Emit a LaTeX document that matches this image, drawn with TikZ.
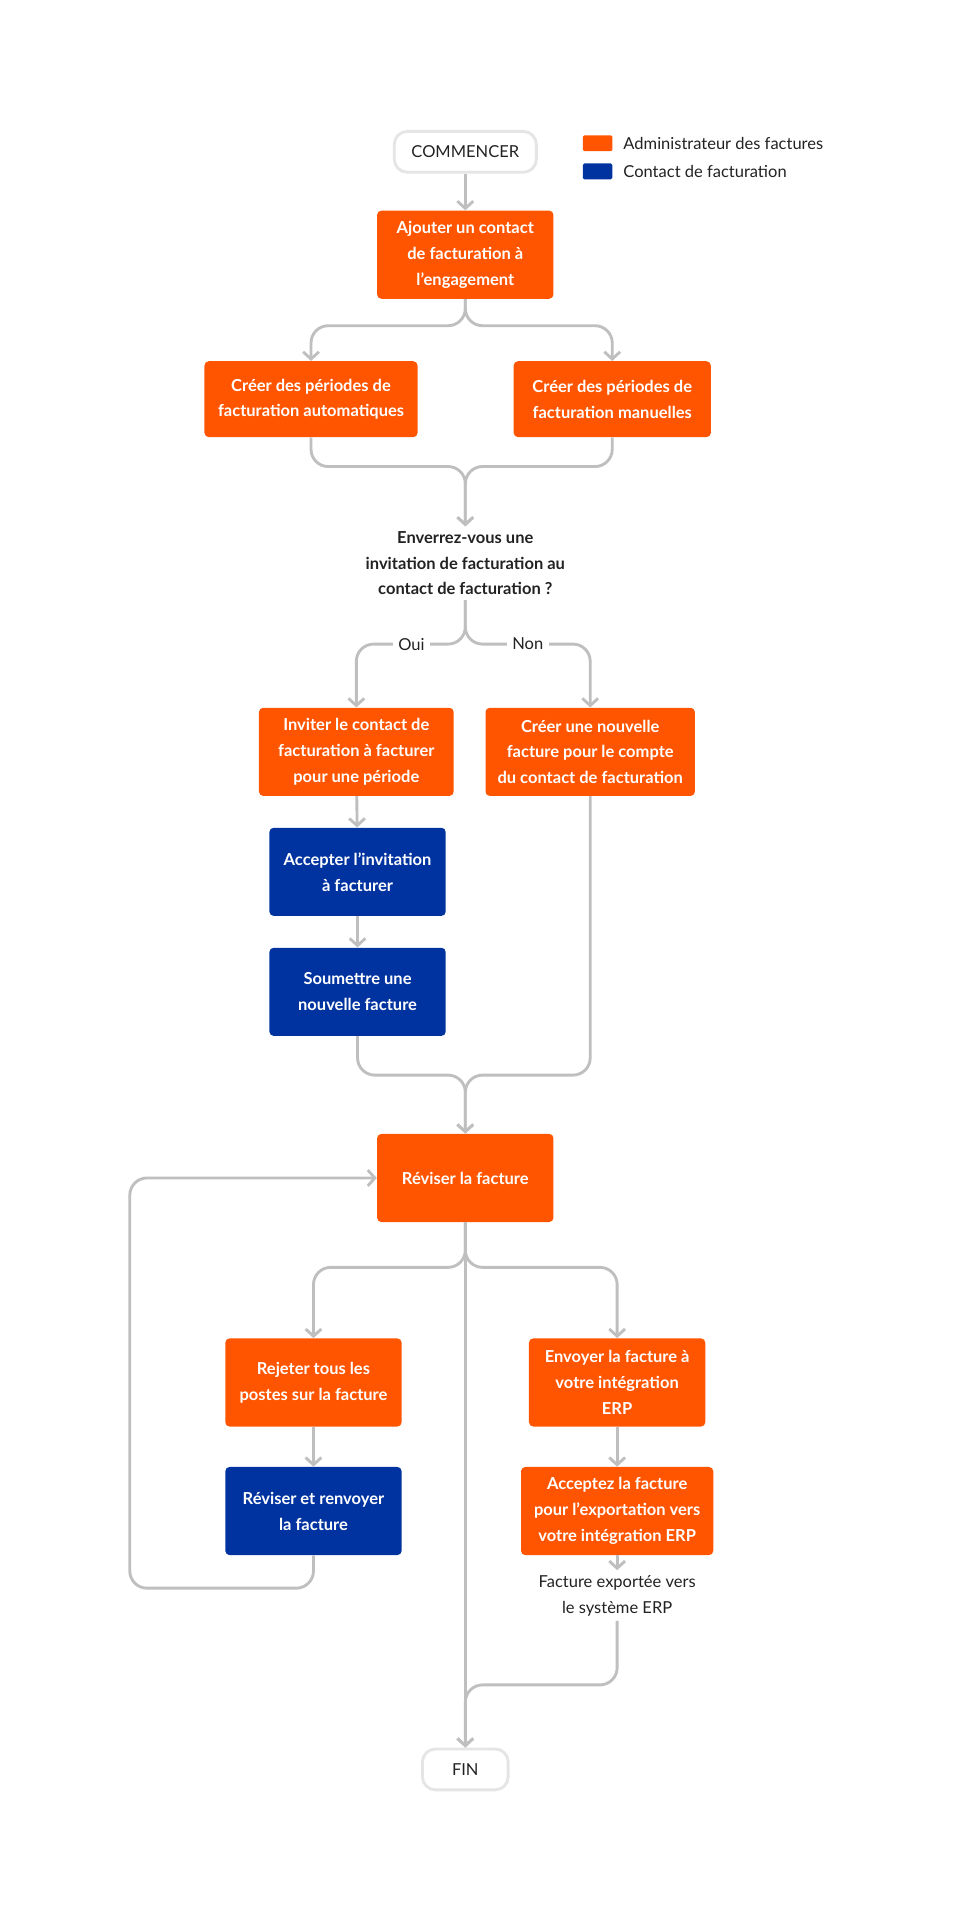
\documentclass[tikz,border=0pt]{standalone}
\usepackage{fontspec}
\setmainfont{Lato}
\usetikzlibrary{arrows.meta}
\definecolor{admin}{HTML}{FF5500}
\definecolor{contact}{HTML}{0033A0}
\definecolor{wire}{HTML}{BFBFBF}
\definecolor{ink}{HTML}{222222}
\tikzset{
  task/.style={rectangle, rounded corners=3pt, fill=admin, text=white, align=center,
    font=\fontsize{11.5}{18}\selectfont\bfseries, minimum width=4.32cm, minimum height=2.16cm, inner sep=2pt},
  guest/.style={task, fill=contact},
  term/.style={rectangle, rounded corners=9pt, draw=black!10, line width=2pt, fill=white, text=ink,
    font=\fontsize{11.5}{14}\selectfont, minimum height=1cm, inner sep=6pt},
  note/.style={align=center, text=ink, font=\fontsize{11.5}{18}\selectfont},
  lbl/.style={fill=white, text=ink, font=\fontsize{11.5}{14}\selectfont, inner sep=4pt},
  wire/.style={draw=wire, line width=2pt, rounded corners=12pt},
  arr/.style={wire, -{Straight Barb[length=5pt,width=11pt]}},
}
\begin{document}
\begin{tikzpicture}[x=0.03cm,y=-0.03cm]
  \useasboundingbox (0,0) rectangle (784,1568);
  % legend
  \node[fill=admin, rounded corners=1pt, minimum width=0.72cm, minimum height=0.39cm, inner sep=0] (keya) at (488,117) {};
  \node[fill=contact, rounded corners=1pt, minimum width=0.72cm, minimum height=0.39cm, inner sep=0] (keyc) at (488,140) {};
  \node[note, anchor=west] (keyat) at (505,117) {Administrateur des factures};
  \node[note, anchor=west] (keyct) at (505,140) {Contact de facturation};
  % nodes
  \node[term, minimum width=3.48cm] (start) at (380,124) {COMMENCER};
  \node[task] (add) at (380,208) {Ajouter un contact\\de facturation à\\l'engagement};
  \node[task, minimum width=5.22cm, minimum height=1.86cm] (auto) at (254,326) {Créer des périodes de\\facturation automatiques};
  \node[task, minimum width=4.83cm, minimum height=1.86cm] (manu) at (500,326) {Créer des périodes de\\facturation manuelles};
  \node[note, font=\fontsize{11.5}{18}\selectfont\bfseries] (ask) at (380,460) {Enverrez-vous une\\invitation de facturation au\\contact de facturation ?};
  \node[task, minimum width=4.77cm] (invite) at (291,614) {Inviter le contact de\\facturation à facturer\\pour une période};
  \node[task, minimum width=5.13cm] (create) at (482,614) {Créer une nouvelle\\facture pour le compte\\du contact de facturation};
  \node[guest] (accept) at (292,712) {Accepter l'invitation\\à facturer};
  \node[guest] (submit) at (292,810) {Soumettre une\\nouvelle facture};
  \node[task] (review) at (380,962) {Réviser la facture};
  \node[task] (reject) at (256,1129) {Rejeter tous les\\postes sur la facture};
  \node[guest] (resub) at (256,1234) {Réviser et renvoyer\\la facture};
  \node[task] (send) at (504,1129) {Envoyer la facture à\\votre intégration\\ERP};
  \node[task, minimum width=4.71cm] (export) at (504,1234) {Acceptez la facture\\pour l’exportation vers\\votre intégration ERP};
  \node[note] (done) at (504,1303) {Facture exportée vers\\le système ERP};
  \node[term, minimum width=2.1cm] (fin) at (380,1445) {FIN};
  % junctions
  \coordinate (j1) at (380,266);
  \coordinate (j2) at (380,381);
  \coordinate (j3) at (380,526);
  \coordinate (j4) at (380,878);
  \coordinate (j5) at (380,1035);
  \coordinate (j6) at (380,1376);
  \coordinate (back) at (106,1297);
  % connectors
  \draw[arr] (start) -- (add);
  \draw[arr] (add.south) -- (j1) -| (auto.north);
  \draw[arr] (add.south) -- (j1) -| (manu.north);
  \draw[arr] (auto.south) |- (j2) -- (ask.north);
  \draw[arr] (manu.south) |- (j2) -- (ask.north);
  \draw[arr] (ask.south) -- (j3) -| (invite.north);
  \draw[arr] (ask.south) -- (j3) -| (create.north);
  \node[lbl] (yes) at (336,526) {Oui};
  \node[lbl] (no) at (431,526) {Non};
  \draw[arr] (invite) -- (accept);
  \draw[arr] (accept) -- (submit);
  \draw[arr] (submit.south) |- (j4) -- (review.north);
  \draw[arr] (create.south) |- (j4) -- (review.north);
  \draw[arr] (review.south) -- (j5) -| (reject.north);
  \draw[arr] (review.south) -- (j5) -| (send.north);
  \draw[arr] (review.south) -- (fin.north);
  \draw[arr] (reject) -- (resub);
  \draw[arr] (send) -- (export);
  \draw[arr] (export) -- (done);
  \draw[arr] (resub.south) |- (back) |- (review.west);
  \draw[arr] (done.south) |- (j6) -- (fin.north);
\end{tikzpicture}
\end{document}
